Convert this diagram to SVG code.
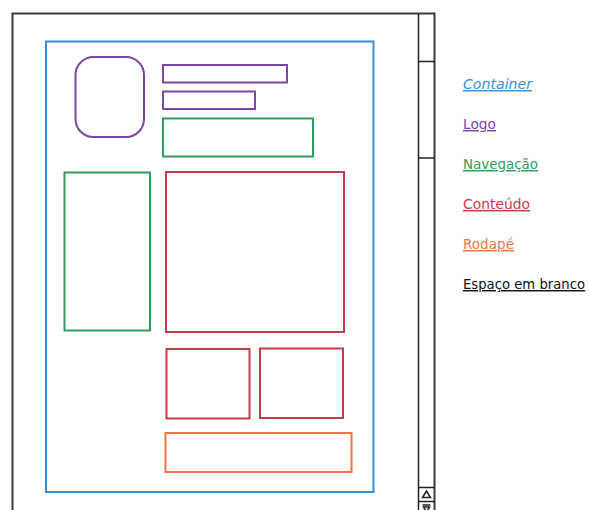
<svg xmlns="http://www.w3.org/2000/svg" width="589" height="510" viewBox="0 0 589 510">
  <style>
    .frame { fill: none; stroke: #3a3a3a; stroke-width: 2; }
    .sb { fill: none; stroke: #222; stroke-width: 1.5; }
    .box { fill: none; stroke-width: 2; }
    .container { stroke: #3b8ed4; }
    .logo { stroke: #7e44a6; }
    .nav { stroke: #2f9e5c; }
    .content { stroke: #c9394c; }
    .footer { stroke: #ef7448; }
    .legend { font-family: "DejaVu Sans", "Liberation Sans", sans-serif; font-size: 14.5px; text-decoration: underline; }
  </style>

  <!-- browser window frame -->
  <g id="window">
    <path class="frame" d="M12.5,510 V13.5 H434.5 V510"/>
    <!-- scrollbar -->
    <line class="sb" x1="418.5" y1="13.5" x2="418.5" y2="510"/>
    <line class="sb" x1="418.5" y1="61.5" x2="434.5" y2="61.5"/>
    <line class="sb" x1="418.5" y1="158" x2="434.5" y2="158"/>
    <line class="sb" x1="418.5" y1="487.5" x2="434.5" y2="487.5"/>
    <line class="sb" x1="418.5" y1="501.5" x2="434.5" y2="501.5"/>
    <path d="M426.5,491 L430.5,497.5 H422.5 Z" fill="none" stroke="#222" stroke-width="1.5"/>
    <path d="M422.5,505 H430.5 M423.5,507 L426.5,512 L429.5,507 Z" fill="none" stroke="#222" stroke-width="1.5"/>
  </g>

  <g id="container">
    <rect class="box container" x="46" y="41.5" width="327.5" height="450.5"/>
  </g>
  <g id="logo">
    <rect class="box logo" x="75.5" y="57" width="68.5" height="80" rx="18" ry="18"/>
  </g>
  <g id="logo-bar-1">
    <rect class="box logo" x="163" y="65" width="124" height="17.5"/>
  </g>
  <g id="logo-bar-2">
    <rect class="box logo" x="163" y="91.5" width="92" height="17.5"/>
  </g>
  <g id="nav-top">
    <rect class="box nav" x="163" y="118.5" width="150" height="38"/>
  </g>
  <g id="nav-side">
    <rect class="box nav" x="64.5" y="172.5" width="85.5" height="158"/>
  </g>
  <g id="content-main">
    <rect class="box content" x="166" y="172" width="178" height="160"/>
  </g>
  <g id="content-left">
    <rect class="box content" x="166.5" y="349" width="83" height="69.5"/>
  </g>
  <g id="content-right">
    <rect class="box content" x="260" y="348.5" width="83" height="69.5"/>
  </g>
  <g id="footer">
    <rect class="box footer" x="165.5" y="433" width="186" height="39"/>
  </g>

  <!-- legend -->
  <g id="legend">
    <text class="legend" x="463" y="89" fill="#3b8ed4" font-style="italic" textLength="69" lengthAdjust="spacingAndGlyphs">Container</text>
    <text class="legend" x="463" y="129" fill="#7e44a6" textLength="33" lengthAdjust="spacingAndGlyphs">Logo</text>
    <text class="legend" x="463" y="169" fill="#2f9e5c" textLength="75" lengthAdjust="spacingAndGlyphs">Navegação</text>
    <text class="legend" x="463" y="209" fill="#c9394c" textLength="67" lengthAdjust="spacingAndGlyphs">Conteúdo</text>
    <text class="legend" x="463" y="249" fill="#ef7448" textLength="51" lengthAdjust="spacingAndGlyphs">Rodapé</text>
    <text class="legend" x="463" y="289" fill="#111" font-size="13.5" textLength="122" lengthAdjust="spacingAndGlyphs">Espaço em branco</text>
  </g>
</svg>
